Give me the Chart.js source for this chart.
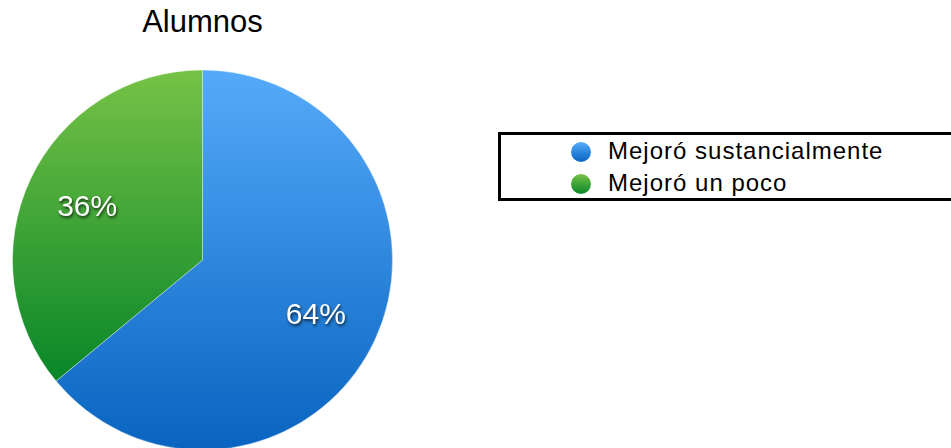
<!DOCTYPE html>
<html>
<head>
<meta charset="utf-8">
<script src="https://cdn.jsdelivr.net/npm/chart.js@4/dist/chart.umd.min.js"></script>
<style>
  html, body { margin: 0; padding: 0; background: #fff; overflow: hidden; }
  body { width: 951px; height: 448px; position: relative; font-family: "Liberation Sans", Arial, Helvetica, sans-serif; }
  #titulo { position: absolute; left: 0; top: 4px; width: 405px; text-align: center; font-size: 31px; line-height: 36px; color: #000; }
  #contenedor { position: absolute; left: 0; top: 0; width: 405px; height: 450px; }
  #leyenda { position: absolute; left: 498px; top: 132px; width: 480px; height: 63px; border: 3px solid #000; }
  .item { position: absolute; left: 70px; height: 30px; font-size: 24px; line-height: 30px; letter-spacing: 1px; color: #000; white-space: nowrap; }
  .marca { display: inline-block; width: 20px; height: 20px; border-radius: 50%; vertical-align: -3px; margin-right: 17px; }
</style>
</head>
<body>
<div id="titulo"></div>
<div id="contenedor"><canvas id="myCanvasAlumnos" width="405" height="450"></canvas></div>
<div id="leyenda"></div>
<script>
var titulo = 'Alumnos';
var categorias = ['Mejoró sustancialmente', 'Mejoró un poco'];
var valores = [64, 36];

// colores arriba / abajo de cada porción
var coloresArriba = ['rgb(86,170,250)', 'rgb(118,194,70)'];
var coloresAbajo = ['rgb(8,100,192)', 'rgb(8,134,40)'];

document.getElementById('titulo').textContent = titulo;

var total = valores.reduce(function(a, b){ return a + b; }, 0);

var gradiente = function(context){
    var chart = context.chart;
    var area = chart.chartArea;
    var i = context.dataIndex;
    if (!area) return coloresArriba[i];
    var g = chart.ctx.createLinearGradient(0, area.top, 0, area.bottom);
    g.addColorStop(0, coloresArriba[i]);
    if (i === 1) {
        g.addColorStop(0.82, coloresAbajo[i]);
    }
    g.addColorStop(1, coloresAbajo[i]);
    return g;
};

var etiquetasPorcentaje = {
    id: 'etiquetasPorcentaje',
    afterDatasetsDraw: function(chart){
        var ctx = chart.ctx;
        var meta = chart.getDatasetMeta(0);
        ctx.save();
        ctx.font = '30px "Liberation Sans", Arial, sans-serif';
        ctx.fillStyle = '#fff';
        ctx.textAlign = 'center';
        ctx.textBaseline = 'middle';
        ctx.shadowColor = 'rgba(0,0,0,0.7)';
        ctx.shadowBlur = 3;
        ctx.shadowOffsetX = 1;
        ctx.shadowOffsetY = 1.5;
        meta.data.forEach(function(arc, i){
            var p = arc.getProps(['x', 'y', 'startAngle', 'endAngle', 'outerRadius'], true);
            var medio = (p.startAngle + p.endAngle) / 2;
            var r = p.outerRadius * 0.665;
            var texto = Math.round(valores[i] / total * 100) + '%';
            ctx.fillText(texto, p.x + Math.cos(medio) * r - 1, p.y + Math.sin(medio) * r + 2);
        });
        ctx.restore();
    }
};

var grafico = new Chart(document.getElementById('myCanvasAlumnos'), {
    type: 'pie',
    data: {
        labels: categorias,
        datasets: [{
            data: valores,
            backgroundColor: gradiente,
            borderColor: 'rgba(255,255,255,0.35)',
            borderWidth: 1,
            hoverOffset: 0,
            radius: 190
        }]
    },
    options: {
        responsive: false,
        animation: false,
        layout: { padding: { left: 12.5, right: 12.5, top: 70, bottom: 0 } },
        plugins: {
            legend: { display: false },
            title: { display: false },
            tooltip: { enabled: false }
        }
    },
    plugins: [etiquetasPorcentaje]
});

// leyenda en html
var leyenda = document.getElementById('leyenda');
categorias.forEach(function(nombre, i){
    var item = document.createElement('div');
    item.className = 'item';
    item.style.top = (1 + i * 32) + 'px';
    var marca = document.createElement('span');
    marca.className = 'marca';
    marca.style.background = 'linear-gradient(' + coloresArriba[i] + ', ' + coloresAbajo[i] + ')';
    item.appendChild(marca);
    item.appendChild(document.createTextNode(nombre));
    leyenda.appendChild(item);
});
</script>
</body>
</html>
